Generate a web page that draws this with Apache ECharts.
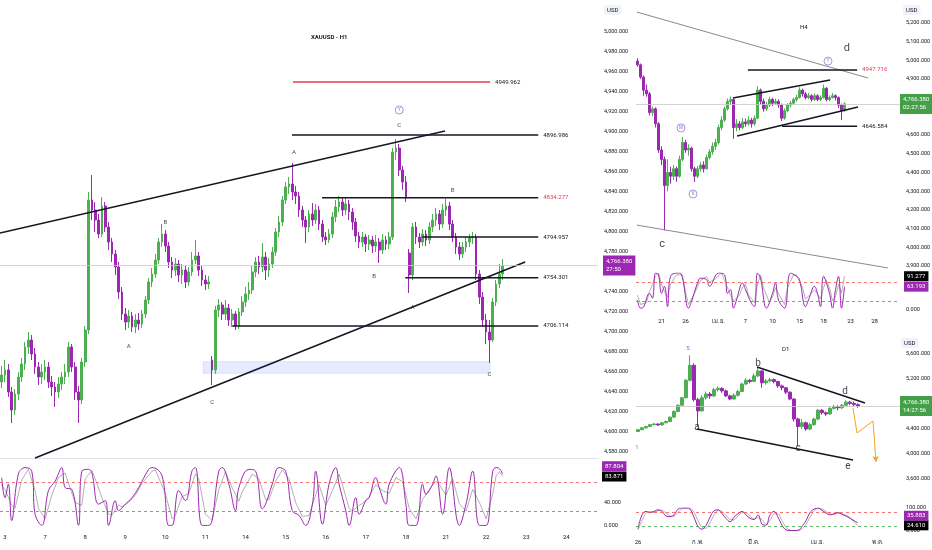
<!DOCTYPE html>
<html>
<head>
<meta charset="utf-8">
<script src="https://cdn.jsdelivr.net/npm/echarts@6.0.0/dist/echarts.min.js"></script>
<style>
html, body { margin: 0; padding: 0; background: #fff; }
#chart { width: 932px; height: 550px; }
</style>
</head>
<body>
<div id="chart"></div>
<script>
// ---------- H1 (left) ----------
const h1Days = ['3', '7', '8', '9', '10', '11', '14', '15', '16', '17', '18', '21', '22', '23', '24'];
// [open, close, low, high]
const h1Candles = [
  [4650,4657,4644,4666],[4657,4662,4650,4672],[4662,4640,4635,4668],[4640,4622,4609,4645],[4622,4638,4617,4643],
  [4638,4655,4632,4660],[4655,4668,4650,4674],[4668,4685,4662,4690],[4685,4692,4678,4700],[4692,4678,4672,4697],
  [4678,4665,4658,4684],[4665,4655,4647,4670],[4655,4660,4648,4668],[4660,4665,4652,4672],[4665,4650,4644,4670],
  [4650,4645,4636,4656],[4645,4640,4625,4650],[4640,4648,4634,4655],[4648,4655,4642,4660],[4655,4660,4648,4668],
  [4660,4685,4655,4690],[4685,4665,4660,4688],[4665,4640,4632,4670],[4640,4632,4609,4646],[4632,4670,4628,4674],
  [4670,4702,4665,4706],[4702,4832,4698,4840],[4832,4822,4812,4857],[4822,4812,4800,4830],[4812,4798,4794,4818],
  [4798,4826,4795,4835],[4826,4805,4800,4830],[4805,4790,4782,4810],[4790,4778,4770,4794],[4778,4765,4757,4782],
  [4765,4740,4733,4770],[4740,4718,4712,4745],[4718,4710,4702,4724],[4710,4716,4704,4722],[4716,4705,4700,4720],
  [4705,4712,4699,4718],[4712,4708,4702,4719],[4708,4718,4704,4722],[4718,4732,4714,4736],[4732,4750,4728,4754],
  [4750,4758,4745,4764],[4758,4772,4754,4778],[4772,4790,4768,4794],[4790,4798,4785,4808],[4798,4786,4780,4802],
  [4786,4770,4764,4790],[4770,4762,4754,4775],[4762,4768,4756,4774],[4768,4757,4750,4772],[4757,4762,4748,4768],
  [4762,4750,4744,4766],[4750,4760,4746,4765],[4760,4772,4756,4780],[4772,4776,4768,4792],[4776,4762,4756,4780],
  [4762,4752,4746,4766],[4752,4748,4742,4757],[4748,4750,4743,4756],[4672,4662,4647,4676],[4662,4722,4658,4726],
  [4722,4727,4715,4733],[4727,4718,4712,4730],[4718,4724,4712,4732],[4724,4712,4706,4728],[4712,4718,4705,4723],
  [4718,4706,4702,4721],[4706,4720,4703,4724],[4720,4730,4716,4736],[4730,4738,4725,4745],[4738,4742,4732,4750],
  [4742,4760,4738,4766],[4760,4770,4755,4775],[4770,4765,4758,4776],[4765,4775,4760,4789],[4775,4762,4752,4780],
  [4762,4768,4755,4774],[4768,4780,4764,4785],[4780,4800,4776,4804],[4800,4810,4795,4816],[4810,4832,4806,4836],
  [4832,4845,4828,4850],[4845,4848,4838,4855],[4848,4840,4832,4869],[4840,4836,4828,4846],[4836,4822,4815,4840],
  [4822,4812,4805,4826],[4812,4805,4789,4816],[4805,4818,4800,4822],[4818,4812,4806,4829],[4812,4822,4808,4828],
  [4822,4808,4802,4826],[4808,4795,4790,4812],[4795,4792,4787,4800],[4792,4798,4789,4803],[4798,4815,4794,4820],
  [4815,4825,4810,4832],[4825,4830,4820,4836],[4830,4822,4816,4834],[4822,4828,4817,4834],[4828,4820,4812,4832],
  [4820,4810,4802,4824],[4810,4796,4790,4814],[4796,4790,4784,4800],[4790,4795,4785,4800],[4795,4788,4780,4798],
  [4788,4792,4782,4797],[4792,4786,4779,4796],[4786,4790,4780,4797],[4790,4782,4769,4794],[4782,4792,4778,4798],
  [4792,4788,4782,4796],[4788,4795,4783,4800],[4795,4880,4792,4884],[4880,4884,4872,4893],[4884,4862,4856,4888],
  [4862,4850,4842,4866],[4850,4834,4830,4856],[4779,4757,4739,4783],[4757,4805,4752,4809],[4805,4795,4788,4810],
  [4795,4790,4784,4799],[4790,4798,4786,4803],[4798,4792,4786,4802],[4792,4805,4788,4810],[4805,4812,4800,4818],
  [4812,4818,4806,4824],[4818,4808,4802,4822],[4808,4822,4804,4828],[4822,4826,4816,4833],[4826,4808,4802,4830],
  [4808,4795,4790,4812],[4795,4785,4778,4799],[4785,4778,4772,4790],[4778,4785,4774,4790],[4785,4790,4780,4795],
  [4790,4794,4785,4798],[4794,4795,4788,4800],[4795,4758,4752,4798],[4758,4735,4728,4762],[4735,4712,4705,4740],
  [4712,4700,4688,4718],[4700,4692,4669,4712],[4692,4730,4690,4734],[4730,4748,4726,4752],[4748,4758,4744,4768],
  [4758,4766.38,4752,4773]
];
// [fromIndex, toIndex, price]
const h1Levels = [
  [87.2, 146.2, 4949.962],
  [86.9, 160.6, 4896.986],
  [95.9, 160.6, 4834.277],
  [125.9, 160.6, 4794.957],
  [120.8, 160.6, 4754.301],
  [69.0, 160.6, 4706.114]
];
const h1TrendUp = [[-0.5, 4799], [132.7, 4901]];
const h1TrendLow = [[10, 4574], [156.7, 4770]];
const h1Zone = [[60.3, 4670.3], [146.2, 4658.7]];
const h1Marks = [[38, 4686, 'A'], [49, 4810, 'B'], [63, 4630, 'C'], [87.5, 4880, 'A'], [111.5, 4756, 'B'],
  [119, 4907, 'C'], [123, 4725, 'A'], [135, 4842, 'B'], [146, 4658, 'C']];
const h1Circles = [[119, 4922, 'Y']];
const h1K = [[0,82],[1,48],[2,71],[3,9],[5,88],[7,99],[9,93],[10,20],[12,1],[14,60],[16,76],[18,99],[19,65],[21,62],
  [23,1],[24,93],[26,96],[27,90],[29,37],[31,43],[32,1],[34,43],[35,26],[37,37],[39,48],[41,65],[44,96],[45,99],
  [48,85],[50,1],[51,1],[53,60],[55,43],[57,94],[58,99],[60,1],[62,1],[65,93],[66,99],[68,71],[70,26],[71,65],
  [74,96],[76,93],[78,29],[79,37],[81,71],[83,99],[85,93],[87,26],[89,18],[91,1],[93,37],[94,93],[96,3],[98,71],
  [100,99],[101,71],[103,26],[104,1],[106,48],[107,20],[109,43],[110,48],[112,82],[113,65],[115,37],[116,71],
  [119,99],[121,37],[122,1],[124,1],[126,71],[127,54],[129,71],[130,85],[132,20],[134,99],[137,1],[139,37],
  [141,93],[143,1],[145,1],[147,93],[148,99],[149,97],[150,87.804]];
const h1D = [[0,70],[1,62],[3,35],[4,30],[6,78],[8,96],[10,60],[11,30],[13,12],[15,52],[17,82],[19,90],[20,72],
  [22,40],[24,35],[25,80],[27,94],[28,80],[30,48],[32,20],[33,18],[35,36],[36,32],[38,40],[40,52],[42,72],[45,93],
  [46,95],[49,55],[51,12],[52,18],[54,50],[56,55],[58,88],[59,80],[61,20],[63,10],[65,62],[67,92],[69,65],[71,42],
  [72,58],[75,88],[77,80],[79,45],[80,45],[82,76],[84,95],[86,80],[88,40],[90,16],[92,18],[95,70],[97,35],[99,60],
  [101,88],[102,70],[104,30],[105,25],[107,35],[108,38],[110,50],[112,70],[114,60],[116,55],[118,82],[120,75],
  [122,30],[124,12],[126,45],[128,62],[130,76],[131,70],[133,52],[135,80],[137,38],[139,25],[141,62],[143,40],
  [145,12],[147,55],[148,85],[149,92],[150,83.871]];

// ---------- H4 (top right) ----------
const h4Ticks = [[8, '21'], [16, '26'], [27, 'เม.ย.'], [36, '7'], [45, '10'], [54, '15'], [62, '18'], [71, '23'], [79, '28']];
const h4Candles = [
  [4995,4975,4965,5010],[4975,4910,4900,4982],[4910,4840,4810,4918],[4840,4820,4805,4870],[4820,4720,4705,4830],
  [4720,4740,4700,4752],[4740,4660,4640,4748],[4660,4520,4505,4670],[4520,4470,4440,4540],[4470,4330,4090,4485],
  [4330,4400,4300,4470],[4400,4380,4340,4430],[4380,4420,4360,4440],[4420,4380,4350,4432],[4380,4470,4372,4490],
  [4470,4560,4460,4590],[4560,4520,4505,4575],[4520,4530,4490,4550],[4530,4420,4405,4538],[4420,4380,4350,4430],
  [4380,4420,4370,4435],[4420,4440,4405,4455],[4440,4420,4400,4460],[4420,4480,4415,4495],[4480,4510,4470,4525],
  [4510,4540,4495,4560],[4540,4560,4520,4580],[4560,4640,4550,4655],[4640,4680,4625,4700],[4680,4740,4670,4752],
  [4740,4780,4730,4795],[4780,4790,4760,4805],[4790,4640,4580,4795],[4640,4660,4620,4685],[4660,4640,4625,4675],
  [4640,4670,4630,4690],[4670,4660,4645,4688],[4660,4680,4650,4700],[4680,4660,4640,4692],[4660,4690,4650,4705],
  [4690,4840,4685,4860],[4840,4780,4765,4848],[4780,4740,4725,4795],[4740,4760,4730,4778],[4760,4790,4750,4805],
  [4790,4770,4755,4800],[4770,4780,4762,4795],[4780,4760,4745,4790],[4760,4690,4675,4768],[4690,4730,4682,4742],
  [4730,4760,4722,4770],[4760,4770,4748,4782],[4770,4790,4760,4800],[4790,4800,4778,4815],[4800,4840,4795,4855],
  [4840,4820,4805,4848],[4820,4800,4790,4830],[4800,4810,4792,4825],[4810,4790,4778,4818],[4790,4810,4782,4822],
  [4810,4790,4780,4818],[4790,4800,4782,4812],[4800,4850,4795,4870],[4850,4790,4780,4856],[4790,4800,4780,4812],
  [4800,4810,4795,4825],[4810,4800,4785,4818],[4800,4760,4745,4806],[4760,4730,4680,4768],[4730,4766.38,4725,4775]
];
const h4Levels = [[36.8, 73.2, 4947.716], [48.2, 73.2, 4646.584]];
const h4WedgeUp = [[-0.2, 5257], [76.8, 4905]];
const h4WedgeLow = [[-0.2, 4119], [83.5, 3890]];
const h4ChanUp = [[31.8, 4798], [64.2, 4894]];
const h4ChanLow = [[33.2, 4595], [73.5, 4750]];
const h4Marks = [[8.2, 4018, 'c'], [69.8, 5065, 'd']];
const h4Circles = [[14.5, 4638, 'W'], [18.5, 4285, 'X'], [63.5, 4995, 'Y']];
const h4K = [[0,27],[1,5],[2,8],[4,45],[5,32],[6,100],[7,95],[8,45],[9,64],[10,9],[11,91],[14,100],[15,86],[17,5],
  [18,23],[20,73],[21,86],[23,82],[24,64],[27,100],[29,95],[30,45],[31,55],[32,5],[33,27],[35,73],[36,55],[38,18],
  [39,9],[40,100],[41,86],[43,5],[45,45],[46,73],[47,27],[49,5],[51,100],[53,91],[54,82],[56,9],[57,27],[59,64],
  [60,45],[61,9],[62,91],[64,45],[65,5],[66,55],[67,91],[68,5],[69,63.193]];
const h4D = [[0,40],[1,15],[3,20],[4,50],[5,70],[6,92],[7,100],[8,70],[9,50],[10,35],[11,70],[13,95],[15,95],[16,50],
  [17,15],[19,45],[21,80],[23,90],[24,75],[26,85],[28,100],[29,80],[31,40],[32,25],[34,40],[35,62],[36,70],[37,40],
  [39,20],[40,70],[41,95],[42,60],[44,20],[45,35],[46,60],[48,30],[49,15],[50,60],[52,95],[53,95],[55,60],[56,30],
  [58,45],[59,55],[61,30],[62,60],[63,80],[64,60],[65,25],[66,35],[67,70],[68,45],[69,91.277]];

// ---------- D1 (bottom right) ----------
const d1Ticks = [[0, '26'], [15, 'ก.พ.'], [29, 'มี.ค.'], [45, 'เม.ย.'], [60, 'พ.ค.']];
const d1Candles = [
  [4360,4390,4350,4400],[4390,4420,4380,4432],[4420,4440,4405,4452],[4440,4470,4430,4480],[4470,4480,4455,4495],
  [4480,4465,4450,4490],[4465,4500,4455,4512],[4500,4520,4490,4535],[4520,4590,4510,4600],[4590,4680,4580,4700],
  [4680,4780,4670,4795],[4780,4900,4770,4915],[4900,5180,4890,5200],[5180,5420,5160,5580],[5420,4870,4840,5450],
  [4870,4690,4440,4900],[4690,4900,4680,4940],[4900,4960,4870,5000],[4960,4930,4880,4990],[4930,5030,4910,5060],
  [5030,5050,5000,5080],[5050,5010,4980,5070],[5010,4930,4910,5030],[4930,4880,4860,4950],[4880,4940,4870,4970],
  [4940,5000,4920,5030],[5000,5120,4990,5140],[5120,5180,5100,5210],[5180,5160,5130,5200],[5160,5250,5150,5290],
  [5250,5330,5230,5390],[5330,5140,5060,5340],[5140,5170,5110,5200],[5170,5190,5150,5220],[5190,5160,5130,5210],
  [5160,5090,5060,5170],[5090,5060,5020,5110],[5060,4990,4960,5070],[4990,4880,4860,5000],[4880,4560,4520,4890],
  [4560,4440,4120,4580],[4440,4500,4400,4560],[4500,4400,4370,4520],[4400,4470,4380,4500],[4470,4560,4450,4580],
  [4560,4700,4540,4720],[4700,4660,4630,4720],[4660,4640,4610,4680],[4640,4730,4630,4750],[4730,4760,4710,4790],
  [4760,4740,4700,4780],[4740,4780,4720,4800],[4780,4830,4760,4860],[4830,4810,4780,4850],[4810,4790,4760,4840],
  [4790,4766.38,4740,4810]
];
const d1Upper = [[29.75, 5392], [56.75, 4816]];
const d1Lower = [[14.75, 4400], [53.75, 3904]];
const d1Path = [[53.75, 4736], [54.75, 4336], [58.75, 4528], [59.5, 3872]];
const d1Marks = [[14.75, 4432, 'a'], [30, 5456, 'b'], [40, 4096, 'c'], [51.75, 5008, 'd'], [52.5, 3808, 'e']];
const d1Waves = [[12.5, 5696, '5'], [-0.25, 4112, '1']];
const d1K = [[0,10],[1,70],[2,85],[3,80],[4,85],[5,92],[6,85],[7,65],[8,62],[9,70],[10,95],[11,100],[12,100],[13,95],
  [14,60],[15,20],[16,8],[17,25],[18,60],[19,88],[20,92],[21,75],[22,55],[23,40],[24,60],[25,75],[26,85],[27,70],
  [28,55],[29,50],[30,70],[31,30],[32,25],[33,70],[34,85],[35,60],[36,25],[37,5],[38,2],[39,2],[40,3],[41,20],
  [42,45],[43,80],[44,95],[45,100],[46,90],[47,78],[48,70],[49,75],[50,80],[51,72],[52,65],[53,55],[54,45],[55,35.883]];
const d1D = [[0,5],[1,45],[2,78],[3,85],[4,82],[5,88],[6,90],[7,78],[8,66],[9,64],[10,82],[11,97],[12,100],[13,100],
  [14,82],[15,45],[16,15],[17,12],[18,35],[19,70],[20,90],[21,85],[22,68],[23,50],[24,48],[25,65],[26,80],[27,80],
  [28,65],[29,52],[30,58],[31,50],[32,30],[33,45],[34,75],[35,75],[36,45],[37,15],[38,3],[39,1],[40,1],[41,8],
  [42,28],[43,60],[44,88],[45,98],[46,96],[47,85],[48,74],[49,72],[50,78],[51,76],[52,68],[53,58],[54,40],[55,24.61]];

const lastPrice = 4766.38;

const FONT = 'Roboto, "Noto Sans", "DejaVu Sans", sans-serif';
const GREEN = '#4caf50';
const PURPLE = '#9c27b0';
const INK = '#131722';
const fmt = v => v.toLocaleString('en-US', {minimumFractionDigits: 3, maximumFractionDigits: 3});

// slots per grid: H1, H1 stoch, H4, H4 stoch, D1, D1 stoch
const SLOTS = [179, 179, 88, 88, 66, 66];

function labelsFrom(n, ticks) {
  let a = new Array(n).fill('');
  ticks.forEach(t => { a[t[0]] = t[1]; });
  return a;
}
const h1Cats = labelsFrom(SLOTS[0], h1Days.map((d, k) => [1 + 12 * k, d]));
const h4Cats = labelsFrom(SLOTS[2], h4Ticks);
const d1Cats = labelsFrom(SLOTS[4], d1Ticks);
const catData = [h1Cats, h1Cats, h4Cats, h4Cats, d1Cats, d1Cats];

let grids = [
  {left: 0, top: -8, width: 598, height: 480},
  {left: 0, top: 467, width: 598, height: 59},
  {left: 636, top: -14.7, width: 264, height: 299.5},
  {left: 636, top: 273, width: 264, height: 37},
  {left: 636, top: 329, width: 264, height: 175},
  {left: 636, top: 508, width: 264, height: 23}
].map(g => Object.assign(g, {outerBoundsMode: 'none', containLabel: false}));

let xAxes = [];
grids.forEach((g, i) => {
  let isStoch = i % 2 === 1;
  xAxes.push({
    type: 'category', gridIndex: i, data: catData[i], boundaryGap: true,
    show: isStoch,
    axisLine: {show: false}, axisTick: {show: false}, splitLine: {show: false},
    axisLabel: {interval: 0, fontSize: 6, color: INK, fontFamily: FONT, margin: [11, 0, 9, 0, 8, 0][i] || 8}
  });
  xAxes.push({type: 'value', gridIndex: i, min: -0.5, max: SLOTS[i] - 0.5, show: false});
});
// pane separator above the H1 oscillator
xAxes.push({type: 'value', gridIndex: 1, position: 'top', offset: 9, min: 0, max: 1,
  axisLine: {show: true, lineStyle: {color: '#e0e3eb', width: 1}},
  axisTick: {show: false}, axisLabel: {show: false}, splitLine: {show: false}});

function yAx(grid, min, max, interval, keep) {
  return {
    type: 'value', gridIndex: grid, position: 'right', min: min, max: max, interval: interval, scale: true,
    axisLine: {show: false}, axisTick: {show: false}, splitLine: {show: false},
    axisLabel: {fontSize: 5.5, color: INK, fontFamily: FONT, margin: 6,
      formatter: v => keep(v) ? fmt(v) : ''}
  };
}
let yAxes = [
  yAx(0, 4560, 5040, 20, v => v >= 4580 && v <= 5000 && v !== 4760),
  yAx(1, 0, 100, 40, v => v === 0 || v === 40),
  yAx(2, 3800, 5400, 100, v => v >= 3900 && v <= 5200 && v !== 4700),
  yAx(3, 0, 100, 50, v => v === 0),
  yAx(4, 3200, 6000, 400, v => v >= 3600 && v <= 5600 && v !== 4800),
  yAx(5, 0, 100, 100, v => true)
];

function candles(g, data, bw, priceText, boxColor, dist) {
  return {
    type: 'candlestick', xAxisIndex: 2 * g, yAxisIndex: g, data: data, barWidth: bw,
    itemStyle: {color: GREEN, color0: PURPLE, borderColor: GREEN, borderColor0: PURPLE, borderWidth: 1},
    markLine: {
      symbol: 'none', silent: true,
      lineStyle: {color: '#c9c9c9', width: 0.8, type: 'solid'},
      label: {position: 'end', formatter: priceText, backgroundColor: boxColor, color: '#fff',
        fontSize: 6, fontFamily: FONT, lineHeight: 8, padding: [2, 3], distance: dist},
      data: [{yAxis: lastPrice}]
    }
  };
}

function seg(g, pts, color, width, endText, endColor) {
  let s = {
    type: 'line', xAxisIndex: 2 * g + 1, yAxisIndex: g, data: pts, symbol: 'none', silent: true,
    lineStyle: {color: color, width: width}, z: 4
  };
  if (endText) {
    s.endLabel = {show: true, formatter: endText, color: endColor || INK, fontSize: 6, fontFamily: FONT, distance: 5};
  }
  return s;
}

function texts(g, marks, size, color) {
  return {
    type: 'scatter', xAxisIndex: 2 * g + 1, yAxisIndex: g, silent: true, z: 5,
    data: marks.map(m => ({value: [m[0], m[1]], name: m[2]})),
    symbolSize: 1, itemStyle: {color: 'rgba(0,0,0,0)'},
    label: {show: true, position: 'inside', formatter: '{b}', fontSize: size, color: color, fontFamily: FONT}
  };
}

function circles(g, marks) {
  return {
    type: 'scatter', xAxisIndex: 2 * g + 1, yAxisIndex: g, silent: true, z: 5,
    data: marks.map(m => ({value: [m[0], m[1]], name: m[2]})),
    symbol: 'circle', symbolSize: 8,
    itemStyle: {color: '#fff', borderColor: '#7e57c2', borderWidth: 0.8},
    label: {show: true, position: 'inside', formatter: '{b}', fontSize: 5, color: '#7e57c2', fontFamily: FONT}
  };
}

// value box at the right edge of a stoch pane; lift moves it up by an empty line under it
function valueBox(v, bg, lift) {
  return {
    yAxis: v, lineStyle: {color: 'rgba(0,0,0,0)', width: 0},
    label: {show: true, position: 'end', distance: 4, fontFamily: FONT,
      formatter: '{a|' + v.toFixed(3) + '}' + (lift ? '\n{g| }' : ''),
      rich: {a: {backgroundColor: bg, color: '#fff', fontSize: 6, padding: [2, 3]},
             g: {height: lift || 0, fontSize: 1}}}
  };
}

function stoch(g, data, color, width, smooth, markData) {
  return {
    type: 'line', xAxisIndex: 2 * g + 1, yAxisIndex: g, data: data, symbol: 'none', smooth: smooth, silent: true,
    lineStyle: {color: color, width: width},
    markLine: {symbol: 'none', silent: true, data: markData}
  };
}
function bands(hi, lo) {
  return [
    {yAxis: hi, lineStyle: {color: '#ef5350', type: [3, 3], width: 0.8}, label: {show: false}},
    {yAxis: lo, lineStyle: {color: '#43a047', type: [3, 3], width: 0.8}, label: {show: false}}
  ];
}

let h1Series = [
  candles(0, h1Candles, 2.2, '4,766.380\n27:50', PURPLE, 5),
  Object.assign(texts(0, h1Marks, 6, INK), {
    markArea: {silent: true, itemStyle: {color: 'rgba(41,98,255,0.12)', borderColor: 'rgba(41,98,255,0.25)', borderWidth: 0.5},
      data: [[{coord: h1Zone[0]}, {coord: h1Zone[1]}]]}
  }),
  circles(0, h1Circles),
  seg(0, h1TrendUp, INK, 1.5),
  seg(0, h1TrendLow, INK, 1.5)
];
h1Levels.forEach((l, k) => {
  h1Series.push(seg(0, [[l[0], l[2]], [l[1], l[2]]], k === 0 ? '#e53950' : INK, 1.5,
    l[2].toFixed(3), k === 2 ? '#e53950' : INK));
});
h1Series.push(stoch(1, h1D, '#a8a8a8', 0.9, false, bands(75, 25).concat([valueBox(83.871, '#000', 0)])));
h1Series.push(stoch(1, h1K, PURPLE, 1, 0.4, [valueBox(87.804, PURPLE, 16)]));

let h4Series = [
  candles(2, h4Candles, 1.8, '4,766.380\n02:27:56', '#43a047', 0),
  seg(2, h4WedgeUp, '#8a8a8a', 1),
  seg(2, h4WedgeLow, '#8a8a8a', 1),
  seg(2, h4ChanUp, INK, 1.5),
  seg(2, h4ChanLow, INK, 1.5),
  seg(2, [[h4Levels[0][0], h4Levels[0][2]], [h4Levels[0][1], h4Levels[0][2]]], INK, 1.5, h4Levels[0][2].toFixed(3), '#e53950'),
  seg(2, [[h4Levels[1][0], h4Levels[1][2]], [h4Levels[1][1], h4Levels[1][2]]], INK, 1.5, h4Levels[1][2].toFixed(3), INK),
  texts(2, h4Marks, 11, INK),
  circles(2, h4Circles),
  stoch(3, h4D, '#a8a8a8', 0.9, false, bands(75, 25).concat([valueBox(91.277, '#000', 0)])),
  stoch(3, h4K, PURPLE, 1, 0.4, [valueBox(63.193, PURPLE, 0)])
];

let d1ArrowPath = d1Path.map((p, k) => k === d1Path.length - 1
  ? {value: p, symbol: 'arrow', symbolSize: [5, 6], symbolRotate: 185, itemStyle: {color: '#f6a21c'}}
  : {value: p, symbol: 'none'});

let d1Series = [
  candles(4, d1Candles, 2.6, '4,766.380\n14:27:56', '#43a047', 0),
  seg(4, d1Upper, INK, 1.5),
  seg(4, d1Lower, INK, 1.5),
  {type: 'line', xAxisIndex: 9, yAxisIndex: 4, data: d1ArrowPath, silent: true, z: 4,
    showSymbol: true, symbol: 'none', lineStyle: {color: '#f6a21c', width: 1}},
  texts(4, d1Marks, 10, INK),
  texts(4, d1Waves, 6, '#2962ff'),
  stoch(5, d1D, '#a8a8a8', 0.9, 0.2, bands(80, 20).concat([valueBox(24.61, '#000', 0)])),
  stoch(5, d1K, PURPLE, 1, 0.4, [valueBox(35.883, PURPLE, 14)])
];

function tag(text, left, top, boxed, bold) {
  return {text: text, left: left, top: top, padding: boxed ? [2, 3] : 0,
    backgroundColor: boxed ? '#f0f3fa' : 'transparent', borderRadius: 2,
    textStyle: {fontSize: 6, fontWeight: bold ? 'bold' : 'normal', color: INK, fontFamily: FONT}};
}

let chart = echarts.init(document.getElementById('chart'));
let option = {
  animation: false,
  backgroundColor: '#fff',
  textStyle: {fontFamily: FONT},
  title: [
    tag('XAUUSD - H1', 311, 34, false, true),
    tag('H4', 800, 24),
    tag('D1', 782, 346),
    tag('USD', 604, 5, true),
    tag('USD', 903, 5, true),
    tag('USD', 901, 338, true)
  ],
  grid: grids,
  xAxis: xAxes,
  yAxis: yAxes,
  series: h1Series.concat(h4Series, d1Series)
};
chart.setOption(option);
</script>
</body>
</html>
